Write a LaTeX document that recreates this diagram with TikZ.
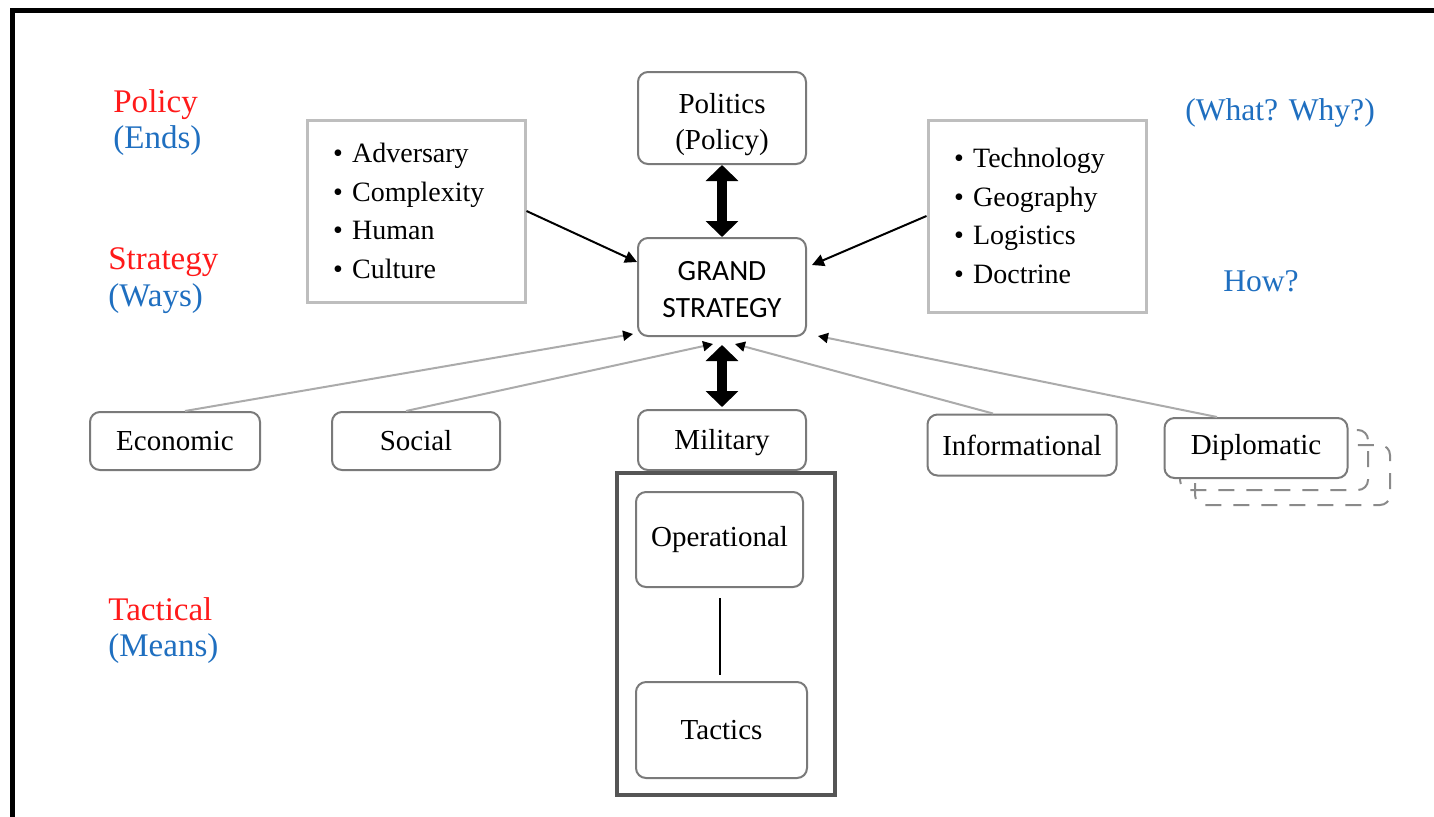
\documentclass[tikz,border=0pt]{standalone}
\usepackage{fontspec}
\setmainfont{Liberation Serif}
\newfontfamily\gsfont{Carlito}
\usetikzlibrary{arrows.meta,calc}
\definecolor{lblred}{HTML}{FF1A1A}
\definecolor{lblblue}{HTML}{1F6FC0}
\definecolor{boxgray}{HTML}{7A7A7A}
\definecolor{listgray}{HTML}{BEBEBE}
\definecolor{linegray}{HTML}{ABABAB}
\definecolor{contgray}{HTML}{555555}
\definecolor{dashgray}{HTML}{8A8A8A}
\begin{document}
\begin{tikzpicture}[x=0.5pt,y=-0.5pt,
  rbox/.style={draw=boxgray, line width=1pt, rounded corners=5pt, fill=white, align=center,
    font=\fontsize{14.5}{18}\selectfont, inner sep=0pt},
  lbox/.style={draw=listgray, line width=1.5pt, fill=white, align=left,
    font=\fontsize{14}{19.2}\selectfont, inner xsep=13pt, inner ysep=0pt, text width=83pt},
  redlab/.style={anchor=base west, text=lblred, font=\fontsize{16.5}{20}\selectfont, inner sep=0pt},
  bluelab/.style={anchor=base west, text=lblblue, font=\fontsize{16.5}{20}\selectfont, inner sep=0pt},
  qlab/.style={anchor=base, text=lblblue, font=\fontsize{15.8}{20}\selectfont, inner sep=0pt},
  thickarrow/.style={line width=5pt, {Triangle[width=16pt,length=8pt]}-{Triangle[width=16pt,length=8pt]}},
  blk/.style={line width=1pt, -{Triangle[width=6pt,length=6pt]}},
  gline/.style={draw=linegray, line width=1pt, -{Triangle[width=5pt,length=5pt,black]}},
  dashline/.style={draw=dashgray, line width=1pt, dash pattern=on 8pt off 6pt}
]
\useasboundingbox (0,0) rectangle (1434,816);
\fill[white] (0,0) rectangle (1434,816);

% frame (cropped)
\draw[line width=2.5pt, line join=miter] (12,830) -- (12,10) -- (1450,10);

% side labels
\node[redlab]  (lpol)  at (113,112) {Policy};
\node[bluelab] (lends) at (113,148) {(Ends)};
\node[redlab]  (lstr)  at (108,269) {Strategy};
\node[bluelab] (lways) at (108,306) {(Ways)};
\node[redlab]  (ltac)  at (108,620) {Tactical};
\node[bluelab] (lmea)  at (108,656) {(Means)};
\node[qlab] (qwhat) at (1280,120) {(What? Why?)};
\node[qlab] (qhow)  at (1261,291) {How?};

% list boxes
\node[lbox, minimum height=91pt] (lb) at (416,211) {• Adversary\\• Complexity\\• Human\\• Culture};
\node[lbox, minimum height=96pt] (rb) at (1037,216) {• Technology\\• Geography\\• Logistics\\• Doctrine};

% central boxes
\node[rbox, minimum width=84pt, minimum height=46pt] (pol) at (722,118) {\rule{0pt}{17pt}Politics\\(Policy)};
\node[rbox, font=\gsfont\fontsize{14.7}{18.5}\selectfont, minimum width=84pt, minimum height=49pt] (gs) at (722,287) {\rule{0pt}{12.5pt}GRAND\\STRATEGY};

% diplomatic dashed outlines
\draw[dashline, rounded corners=5pt] (1180,430) rectangle (1368,490);
\draw[dashline, rounded corners=5pt] (1195,445) rectangle (1390,505);

% bottom row
\node[rbox, minimum width=85pt, minimum height=29pt] (econ) at (175,441) {Economic};
\node[rbox, minimum width=84pt, minimum height=29pt] (soc) at (416,441) {Social};
\node[rbox, minimum width=84pt, minimum height=30pt] (mil) at (722,440) {\rule{0pt}{13pt}Military};
\node[rbox, minimum width=94.5pt, minimum height=30.5pt] (info) at (1022,445) {Informational};
\node[rbox, minimum width=91.5pt, minimum height=30pt] (dip) at (1256,448) {Diplomatic};

% military container
\node[draw=contgray, line width=1.6pt, minimum width=109pt, minimum height=161pt, inner sep=0pt] (cont) at (726,634) {};
\node[rbox, minimum width=83.5pt, minimum height=47.5pt] (oper) at (719.5,539.5) {Operational};
\node[rbox, minimum width=85.5pt, minimum height=48pt] (tact) at (721.5,730) {Tactics};

% connectors
\draw[thickarrow] (pol) -- (gs);
\draw[thickarrow, shorten <=4pt, shorten >=1pt] (gs) -- (mil);
\draw[blk] (lb.east) -- ($(gs.west)+(0,-25)$);
\draw[blk] (rb.west) -- ($(gs.east)+(5,-22)$);
\draw[gline] ($(econ.north)+(10,0)$) -- ($(gs.south west)+(-4,-3)$);
\draw[gline] ($(soc.north)+(-10,0)$) -- ($(gs.south)+(-9,7)$);
\draw[gline] ($(info.north)+(-29,0)$) -- ($(gs.south)+(13,7)$);
\draw[gline] ($(dip.north)+(-39,0)$) -- ($(gs.south east)+(11,-1)$);
\draw[line width=1pt, shorten <=5pt, shorten >=3pt] (oper.south) -- (oper.south |- tact.north);
\end{tikzpicture}
\end{document}
